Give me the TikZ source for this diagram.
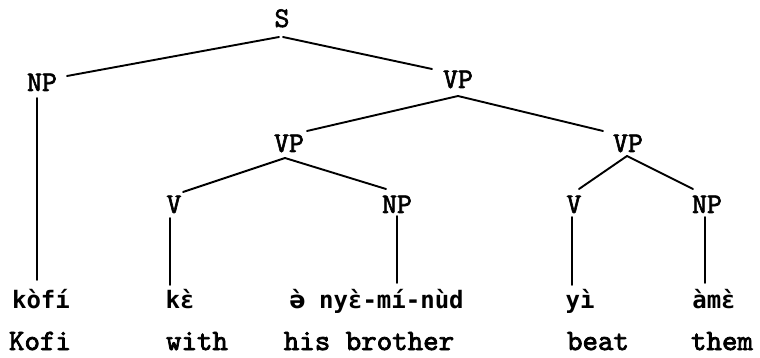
\documentclass[tikz,border=0pt]{standalone}
\usepackage{fontspec}
\newfontfamily\labfont[FakeBold=2]{lmmono10-regular.otf}
\newfontfamily\glossfont[FakeBold=2.6]{lmmono10-regular.otf}
\newfontfamily\ewefont{DejaVu Sans Mono}
\newfontfamily\ewesans{DejaVu Sans}
\begin{document}
\begin{tikzpicture}[x=1pt,y=-1pt,
  lab/.style={anchor=base,inner sep=0pt,font=\labfont\fontsize{28.5}{29}\selectfont},
  ewe/.style={anchor=base,inner sep=0pt,font=\ewefont\bfseries\fontsize{24}{24}\selectfont},
  gloss/.style={anchor=base,inner sep=0pt,font=\glossfont\fontsize{29.5}{30}\selectfont},
  branch/.style={line width=1.9pt,line cap=round}]
\useasboundingbox[fill=white] (0,0) rectangle (760,358);
% category labels
\node[lab] (S)   at (282,27) {S};
\node[lab] (NP1) at (42,91) {NP};
\node[lab] (VP1) at (458,88) {VP};
\node[lab] (VP2) at (289,152) {VP};
\node[lab] (VP3) at (628,152) {VP};
\node[lab] (V1)  at (174,213) {V};
\node[lab] (NP2) at (397,213) {NP};
\node[lab] (V2)  at (574,213) {V};
\node[lab] (NP3) at (707,213) {NP};
% Ewe words
\node[ewe] (w1) at (41,308) {kòfí};
\node[ewe] (w2) at (180,308) {kɛ̀};
\node[ewe] (w3) at (377,308) {\makebox[0.602em]{\ewesans\bfseries ə̀} nyɛ̀-mí-nùd};
\node[ewe] (w4) at (580,308) {yì};
\node[ewe] (w5) at (714,308) {àmɛ̀};
% glosses
\node[gloss] (g1) at (40,350) {Kofi};
\node[gloss] (g2) at (197,350) {with};
\node[gloss] (g3) at (369,350) {his brother};
\node[gloss] (g4) at (598,350) {beat};
\node[gloss] (g5) at (722,350) {them};
% branches
\draw[branch] ([shift={(-3,10)}]S.base) -- ([shift={(25,-15)}]NP1.base);
\draw[branch] ([shift={(1,10)}]S.base) -- ([shift={(-26,-19)}]VP1.base);
\draw[branch] ([shift={(0,8)}]VP1.base) -- ([shift={(18,-21)}]VP2.base);
\draw[branch] ([shift={(0,8)}]VP1.base) -- ([shift={(-25,-21)}]VP3.base);
\draw[branch] ([shift={(-4,6)}]VP2.base) -- ([shift={(9,-21)}]V1.base);
\draw[branch] ([shift={(-4,6)}]VP2.base) -- ([shift={(-11,-24)}]NP2.base);
\draw[branch] ([shift={(-1,4)}]VP3.base) -- ([shift={(5,-24)}]V2.base);
\draw[branch] ([shift={(-1,4)}]VP3.base) -- ([shift={(-14,-24)}]NP3.base);
% vertical lines to words
\draw[branch] ([shift={(-5,7)}]NP1.base) -- ([shift={(-4,-28)}]w1.base);
\draw[branch] ([shift={(-4,5)}]V1.base) -- ([shift={(-10,-23)}]w2.base);
\draw[branch] ([shift={(0,3)}]NP2.base) -- ([shift={(20,-25)}]w3.base);
\draw[branch] ([shift={(-2,4)}]V2.base) -- ([shift={(-8,-23)}]w4.base);
\draw[branch] ([shift={(-2,4)}]NP3.base) -- ([shift={(-9,-25)}]w5.base);
\end{tikzpicture}
\end{document}
